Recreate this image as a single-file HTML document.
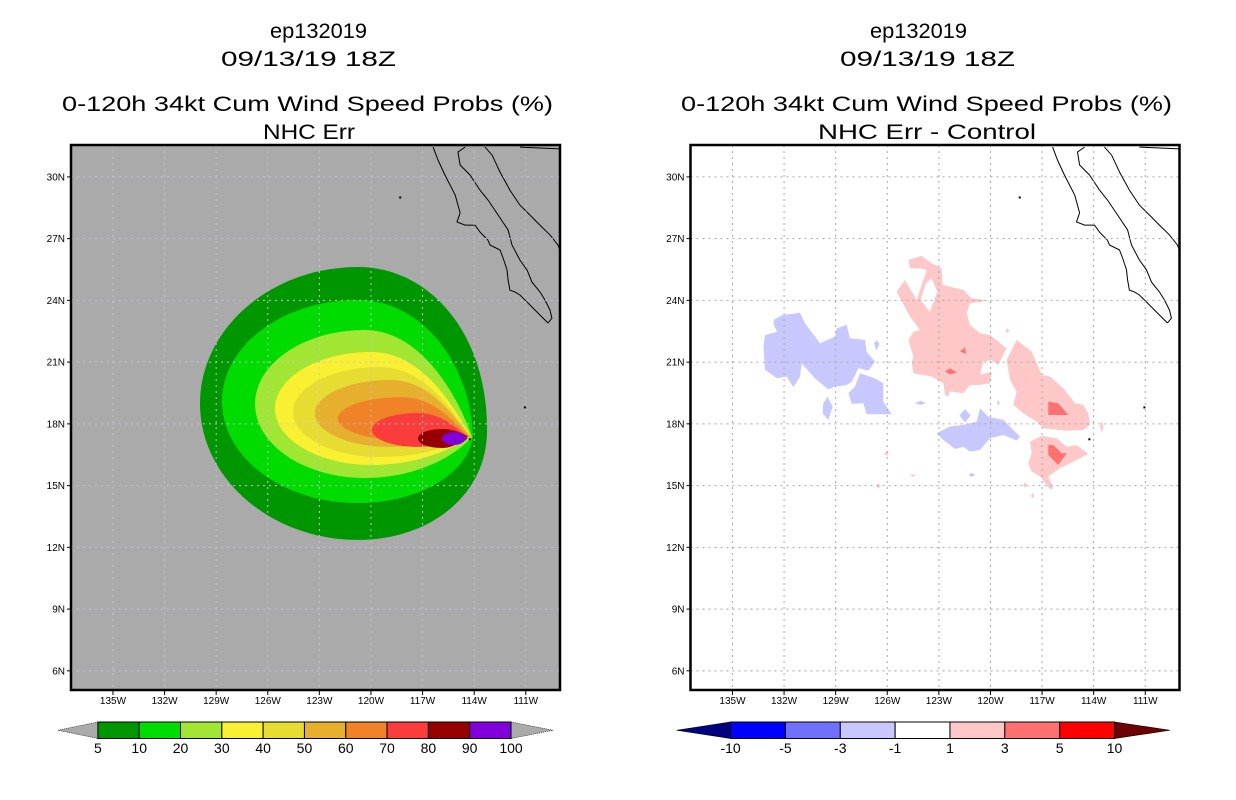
<!DOCTYPE html>
<html><head><meta charset="utf-8">
<style>
html,body{margin:0;padding:0;background:#fff;}
svg{display:block;}
text{font-family:"Liberation Sans","DejaVu Sans",sans-serif;}
</style></head>
<body>
<svg id="chart" width="1236" height="800" viewBox="0 0 1236 800" xmlns="http://www.w3.org/2000/svg">
<defs>
<clipPath id="clipL"><rect x="71" y="145" width="489" height="545"/></clipPath>
<clipPath id="clipR"><rect x="690.5" y="145" width="489" height="545"/></clipPath>
</defs>
<g id="titles" font-size="21" fill="#000">
<text x="270" y="38" textLength="97" lengthAdjust="spacingAndGlyphs">ep132019</text>
<text x="221" y="66" textLength="175" lengthAdjust="spacingAndGlyphs">09/13/19 18Z</text>
<text x="62" y="111" textLength="491" lengthAdjust="spacingAndGlyphs">0-120h 34kt Cum Wind Speed Probs (%)</text>
<text x="263" y="139" textLength="92" lengthAdjust="spacingAndGlyphs">NHC Err</text>
<text x="870" y="38" textLength="97" lengthAdjust="spacingAndGlyphs">ep132019</text>
<text x="840" y="66" textLength="175" lengthAdjust="spacingAndGlyphs">09/13/19 18Z</text>
<text x="681" y="111" textLength="491" lengthAdjust="spacingAndGlyphs">0-120h 34kt Cum Wind Speed Probs (%)</text>
<text x="818" y="139" textLength="218" lengthAdjust="spacingAndGlyphs">NHC Err - Control</text>
</g>
<g id="panelL"></g>
<g id="panelR"></g>
<g id="cbars"></g>
</svg>
<script>
// ---- data ----
const lonTicks = [135,132,129,126,123,120,117,114,111];
const latTicks = [30,27,24,21,18,15,12,9,6];
const lonLabels = ["135W","132W","129W","126W","123W","120W","117W","114W","111W"];
const latLabels = ["30N","27N","24N","21N","18N","15N","12N","9N","6N"];
// cumulative probability contours (level, west lon, east lon, north lat, south lat, tip lat, roundness)
const probLevels = [5,10,20,30,40,50,60,70,80,90];
const probColors = ["#009600","#00dc00","#a0e632","#faf032","#e6dc32","#e6af2d","#f08228","#fa3c3c","#960000","#8200dc"];
const contWest  = [129.94,128.66,126.74,125.58,124.53,123.25,121.92,119.94,117.27,115.87];
const contEast  = [113.25,114.07,114.13,114.13,114.13,114.13,114.24,114.36,114.36,114.36];
const contNorth = [25.62,24.02,22.56,21.49,20.76,20.13,19.30,18.53,17.75,17.60];
const contSouth = [12.36,14.15,15.37,16.00,16.39,16.88,17.22,16.88,16.83,16.97];
const contTip   = [17.70,17.46,17.36,17.36,17.36,17.36,17.36,17.40,17.40,17.30];
const contRound = [1.0,0.9,0.55,0.4,0.35,0.3,0.3,0.25,0.3,0.3];
const probTickLabels = ["5","10","20","30","40","50","60","70","80","90","100"];
// difference field polygons (lon W, lat N)
const diffLabels = ["-10","-5","-3","-1","1","3","5","10"];
const diffColors = ["#0000ff","#7070ff","#c8c8ff","#ffffff","#ffc8c8","#ff7070","#ff0000"];
const negBlobs = [
 [[132.6,23.05],[132.1,23.29],[131.07,23.4],[130.78,22.89],[129.91,21.92],[129.04,22.24],[128.94,22.64],[128.36,22.81],[128.17,22.16],[127.3,22.08],[127.2,21.51],[126.71,21.02],[127.1,20.59],[127.68,20.7],[128.07,20.05],[128.36,19.89],[129.04,19.81],[129.43,19.68],[130.2,20.21],[130.98,20.94],[131.07,20.3],[131.46,19.78],[131.85,20.3],[132.4,20.21],[133.1,20.62],[133.2,21.75],[133.1,22.32],[132.4,22.48],[132.6,22.81]],
 [[127.58,20.46],[126.71,20.21],[126.23,19.97],[126.23,19.08],[125.74,18.47],[127.2,18.47],[127.39,19.0],[128.07,18.97],[128.26,19.49],[127.88,19.81]],
 [[129.48,19.32],[129.17,18.84],[129.43,18.19],[129.76,18.51],[129.72,19.0]],
 [[123.13,17.54],[122.35,17.87],[121.58,17.95],[120.8,18.11],[120.61,18.76],[120.12,18.35],[119.25,18.19],[118.67,17.7],[118.28,17.38],[118.48,17.19],[119.25,17.46],[120.03,17.3],[120.61,16.73],[121.19,16.65],[121.58,16.89],[122.06,16.78],[122.74,17.22]],
 [[121.48,18.72],[121.15,18.4],[121.48,18.08],[121.8,18.4]],
 [[124.06,19.12],[123.75,19.0],[124.06,18.93],[124.4,19.0]],
 [[121.09,15.62],[120.9,15.52],[121.09,15.42],[121.28,15.52]],
 [[126.62,22.05],[126.45,21.9],[126.62,21.55],[126.78,21.92]]
];
const posBlobs = [
 [[124.77,25.96],[124.0,26.16],[123.42,25.8],[122.84,25.56],[122.78,24.75],[121.58,24.51],[121.09,24.1],[120.12,23.99],[121.19,23.86],[121.38,23.37],[121.19,22.81],[120.61,22.4],[120.03,22.32],[119.06,21.67],[119.54,20.86],[119.93,21.1],[120.41,21.02],[120.61,20.38],[119.93,20.54],[120.03,19.97],[120.61,19.89],[121.19,19.89],[121.58,19.49],[122.35,19.57],[122.45,19.32],[122.64,19.4],[122.74,19.97],[123.42,20.3],[124.48,20.46],[124.58,20.94],[124.48,21.27],[124.77,22.08],[124.48,22.48],[124.1,22.56],[124.68,23.21],[125.45,24.43],[124.97,24.99],[124.29,24.02],[123.9,24.99],[123.71,25.48],[124.1,25.56],[124.68,25.56]],
 [[118.48,22.08],[117.6,21.51],[117.02,20.38],[116.54,20.3],[115.76,19.73],[115.09,19.0],[114.6,18.92],[114.31,18.51],[114.21,17.95],[114.6,17.7],[115.57,17.67],[116.93,17.78],[117.31,18.11],[118.09,18.51],[118.67,18.92],[118.48,19.57],[118.86,20.13],[119.06,21.1],[118.67,21.75]],
 [[117.7,17.14],[117.02,17.41],[116.15,17.3],[115.57,16.89],[114.99,16.97],[114.6,16.73],[114.31,16.54],[114.8,16.33],[115.38,16.08],[115.96,15.84],[116.64,15.44],[116.34,14.87],[116.54,14.82],[117.12,15.44],[117.6,15.68],[117.8,16.08],[117.6,16.57]],
 [[119.02,22.65],[118.9,22.53],[119.02,22.42],[119.14,22.53]],
 [[119.54,19.18],[119.45,19.03],[119.54,18.88],[119.63,19.03]],
 [[113.53,18.15],[113.42,17.86],[113.53,17.55],[113.64,17.86]],
 [[126.04,16.68],[125.9,16.54],[126.04,16.45],[126.18,16.54]],
 [[126.52,15.1],[126.38,14.98],[126.52,14.88],[126.66,14.98]],
 [[124.52,15.55],[124.35,15.49],[124.52,15.43],[124.69,15.49]],
 [[117.99,15.2],[117.9,15.03],[117.99,14.88],[118.08,15.03]],
 [[117.55,14.65],[117.45,14.5],[117.55,14.38],[117.65,14.5]]
];
const posHole = [[124.06,24.02],[123.52,23.45],[123.09,24.43],[123.42,25.07],[123.75,24.83]];
const redBlobs = [
 [[116.64,19.08],[116.06,19.0],[115.47,18.43],[116.64,18.43]],
 [[116.64,16.97],[116.34,16.97],[115.86,16.57],[115.57,16.57],[116.06,16.0],[116.64,16.49]],
 [[121.77,21.51],[121.48,21.72],[121.42,21.4]],
 [[122.64,20.54],[122.35,20.7],[121.96,20.49],[122.35,20.41]]
];
const coastPacific = [[116.39,31.45],[116.1,30.82],[115.7,30.09],[115.1,29.12],[114.82,28.25],[115.0,27.81],[114.53,27.66],[113.95,27.66],[113.66,27.32],[113.2,26.93],[113.08,26.69],[112.5,26.45],[112.32,26.06],[112.09,25.48],[112.03,24.99],[111.92,24.5],[111.63,24.41],[111.34,24.26],[110.76,23.78],[110.18,23.29],[109.71,22.9]];
const coastGulf = [[114.53,31.45],[114.94,31.21],[114.82,30.58],[114.24,30.09],[113.66,29.36],[113.2,28.88],[112.61,28.15],[112.03,27.42],[111.8,26.69],[111.34,25.96],[110.93,25.48],[110.64,24.89],[110.18,24.41],[109.88,24.02],[109.59,23.53],[109.48,23.14],[109.71,22.9]];
const coastMain = [[113.37,31.45],[112.96,31.06],[112.5,30.24],[111.92,29.36],[111.34,28.63],[110.76,28.15],[110.18,27.66],[109.59,27.18],[109.13,26.69],[108.9,26.2]];
const coastBorder = [[111.34,31.45],[109.0,31.36]];
const islands = [[118.3,29.0],[111.05,18.8],[114.25,17.25]];

// ---- axis functions ----
const NS='http://www.w3.org/2000/svg';
const LON0=137.44, LAT0=31.55, KX=17.2, KY=20.58, Y0=145;
function xs(lon,x0){return x0+(LON0-lon)*KX;}
function ys(lat){return Y0+(LAT0-lat)*KY;}
function mk(tag,attrs,parent){const e=document.createElementNS(NS,tag);for(const k in attrs)e.setAttribute(k,attrs[k]);parent.appendChild(e);return e;}
function poly(pts,x0){return pts.map((p,i)=>(i?'L':'M')+xs(p[0],x0).toFixed(1)+','+ys(p[1]).toFixed(1)).join('')+'Z';}
function line(pts,x0){return pts.map((p,i)=>(i?'L':'M')+xs(p[0],x0).toFixed(1)+','+ys(p[1]).toFixed(1)).join('');}

function drawFrame(g,x0,bg,gridCol,clip,mapDraw){
  const cg=mk('g',{'clip-path':'url(#'+clip+')'},g);
  const bgr=mk('rect',{x:x0,y:145,width:489,height:545,fill:bg},cg);
  
  
  mapDraw(cg,x0);
  [coastPacific,coastGulf,coastMain,coastBorder].forEach(c=>{
    const p=mk('path',{d:line(c,x0),fill:'none',stroke:'#000','stroke-width':1},cg);
    
    
  });
  islands.forEach(s=>{
    const r=mk('rect',{x:xs(s[0],x0)-1,y:ys(s[1])-1,width:2,height:2,fill:'#000'},cg);
    
    
  });
  lonTicks.forEach((lon,i)=>{
    const x=xs(lon,x0);
    const gl=mk('line',{x1:x,y1:145,x2:x,y2:690,stroke:gridCol,'stroke-width':1,'stroke-dasharray':'2 4'},cg);
    
    
    mk('line',{x1:x,y1:690,x2:x,y2:695,stroke:'#000','stroke-width':1},g);
    const t=mk('text',{x:x,y:704,'font-size':10,'text-anchor':'middle',fill:'#000'},g);
    t.textContent=lonLabels[i];
    
    
  });
  latTicks.forEach((lat,i)=>{
    const y=ys(lat);
    const gl=mk('line',{x1:x0,y1:y,x2:x0+489,y2:y,stroke:gridCol,'stroke-width':1,'stroke-dasharray':'2 4'},cg);
    
    
    mk('line',{x1:x0-4,y1:y,x2:x0,y2:y,stroke:'#000','stroke-width':1},g);
    const t=mk('text',{x:x0-6,y:y+3.5,'font-size':10,'text-anchor':'end',fill:'#000'},g);
    t.textContent=latLabels[i];
    
    
  });
  const fr=mk('rect',{x:x0,y:145,width:489,height:545,fill:'none',stroke:'#000','stroke-width':2.5},g);
  
  
}

function teardrop(i,x0){
  const W=xs(contWest[i],x0),E=xs(contEast[i],x0),N=ys(contNorth[i]),S=ys(contSouth[i]),T=ys(contTip[i]);
  const r=contRound[i],w=E-W,mid=(N+S)/2,xt=W+w*(0.45+0.1*r),d1=w*0.12*(1-r);
  const a1=T-(T-N)*0.6*r, a2=T+(S-T)*0.6*r;
  return `M${E},${T}C${E-d1},${a1} ${xt+(E-xt)*0.55},${N} ${xt},${N}`+
   `C${W+(xt-W)*0.45},${N} ${W},${mid-(mid-N)*0.55} ${W},${mid}`+
   `C${W},${mid+(S-mid)*0.55} ${W+(xt-W)*0.45},${S} ${xt},${S}`+
   `C${xt+(E-xt)*0.55},${S} ${E-d1},${a2} ${E},${T}Z`;
}

const gL=document.getElementById('panelL');
drawFrame(gL,71,'#aaaaaa','#c4c4d4','clipL',(cg,x0)=>{
  probLevels.forEach((lv,i)=>{
    const p=mk('path',{d:teardrop(i,x0),fill:probColors[i]},cg);
    
    
  });
});
const gR=document.getElementById('panelR');
drawFrame(gR,690.5,'#ffffff','#a8a8a8','clipR',(cg,x0)=>{
  negBlobs.forEach(b=>{
    const p=mk('path',{d:poly(b,x0),fill:'#c8c8ff'},cg);
    
    
  });
  posBlobs.forEach(b=>{
    const p=mk('path',{d:poly(b,x0),fill:'#ffc8c8'},cg);
    
    
  });
  const h=mk('path',{d:poly(posHole,x0),fill:'#ffffff'},cg);
  
  
  redBlobs.forEach(b=>{
    const p=mk('path',{d:poly(b,x0),fill:'#ff7070'},cg);
    
    
  });
});

// ---- colorbars ----
const cb=document.getElementById('cbars');
function colorbar(x0,x1,tipL,tipR,colors,labels,lcol,rcol,name){
  const g=mk('g',{},cb);
  
  
  const y0=722,y1=738.5,ym=(y0+y1)/2,n=colors.length,w=(x1-x0)/n;
  const tl=mk('path',{d:`M${tipL},${ym}L${x0},${y0}L${x0},${y1}Z`,fill:lcol,stroke:'#000','stroke-width':0.6,'stroke-dasharray':lcol=='#aaaaaa'?'1 1':'none'},g);
  
  
  const tr=mk('path',{d:`M${tipR},${ym}L${x1},${y0}L${x1},${y1}Z`,fill:rcol,stroke:'#000','stroke-width':0.6,'stroke-dasharray':rcol=='#aaaaaa'?'1 1':'none'},g);
  
  
  colors.forEach((c,i)=>{
    const r=mk('rect',{x:x0+i*w,y:y0,width:w,height:y1-y0,fill:c,stroke:'#000','stroke-width':1},g);
    
    
  });
  labels.forEach((l,i)=>{
    const t=mk('text',{x:x0+i*w,y:753,'font-size':14,'text-anchor':'middle',fill:'#000'},g);
    t.textContent=l;
    
    
  });
}
colorbar(97.9,511,58,553,probColors,probTickLabels,'#aaaaaa','#aaaaaa','prob-colorbar');
colorbar(730.6,1114.5,676.5,1170,diffColors,diffLabels,'#000080','#6e0000','diff-colorbar');
</script>
</body></html>
